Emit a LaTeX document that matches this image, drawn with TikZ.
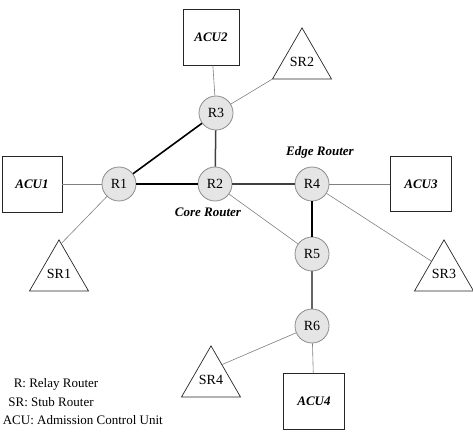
\documentclass[tikz,border=0pt]{standalone}
\usepackage{fontspec}
\setmainfont{Liberation Serif}
\usetikzlibrary{shapes.geometric,calc}
\begin{document}
\begin{tikzpicture}[x=1pt,y=-1pt,
  router/.style={circle,draw=black!45,fill=black!10,line width=0.8pt,minimum size=34pt,inner sep=0pt,font=\fontsize{14}{16}\selectfont},
  acu/.style={rectangle,draw=black!85,line width=0.7pt,inner sep=0pt,font=\fontsize{13}{15}\selectfont\bfseries\itshape},
  stub/.style={regular polygon,regular polygon sides=3,draw=black!85,line width=0.7pt,minimum size=64pt,inner sep=0pt,font=\fontsize{14}{16}\selectfont},
  thinl/.style={draw=black!50,line width=0.6pt},
  thickl/.style={draw=black,line width=2pt},
  medl/.style={draw=black!75,line width=1.5pt},
  lbl/.style={font=\fontsize{13}{15}\selectfont\bfseries\itshape},
  leg/.style={font=\fontsize{13}{15}\selectfont,inner sep=0pt}]
\useasboundingbox (0,0) rectangle (473,435);
% nodes
\node[acu,minimum width=56pt,minimum height=56pt] (ACU2) at (211,37) {ACU2};
\node[acu,minimum width=60pt,minimum height=56pt] (ACU1) at (32,184) {ACU1};
\node[acu,minimum width=61pt,minimum height=55pt] (ACU3) at (421,184) {ACU3};
\node[acu,minimum width=61pt,minimum height=56pt] (ACU4) at (314,401) {ACU4};
\node[router] (R3) at (216,113) {R3};
\node[router] (R1) at (119,184) {R1};
\node[router] (R2) at (215,184) {R2};
\node[router] (R4) at (312,184) {R4};
\node[router] (R5) at (312,254) {R5};
\node[router] (R6) at (312,326) {R6};
\node[stub] (SR2) at (302,62) {SR2};
\node[stub] (SR1) at (59,274) {SR1};
\node[stub] (SR3) at (444,274) {SR3};
\node[stub] (SR4) at (211,380) {SR4};
\node[lbl] (edge) at (320,152) {Edge Router};
\node[lbl] (core) at (208,212) {Core Router};
\node[leg] (l1) at (56,384) {R: Relay Router};
\node[leg] (l2) at (51,402) {SR: Stub Router};
\node[leg,anchor=east] (l3) at (163,420) {ACU: Admission Control Unit};
% connectors
\path[thinl] (ACU2) -- (R3);
\path[thinl] (R3) -- (SR2.corner 2);
\path[thinl] (ACU1) -- (R1);
\path[thinl] (R1) -- ($(SR1.corner 1)!0.08!(SR1.corner 3)$);
\path[thinl] (R2) -- (R5);
\path[thinl] (R4) -- (ACU3);
\path[thinl] (R4) -- ($(SR3.corner 1)!0.42!(SR3.corner 2)$);
\path[thinl] (R6) -- ($(SR4.corner 1)!0.37!(SR4.corner 3)$);
\path[thinl] (R6) -- (ACU4);
\path[draw=black,line width=1.6pt] (R3) -- (R1);
\path[medl] (R3) -- (R2);
\path[thickl] (R1) -- (R2);
\path[medl] (R2) -- (R4);
\path[draw=black,line width=2.6pt] (R4) -- (R5);
\path[draw=black!60,line width=1.5pt] (R5) -- (R6);
\end{tikzpicture}
\end{document}
